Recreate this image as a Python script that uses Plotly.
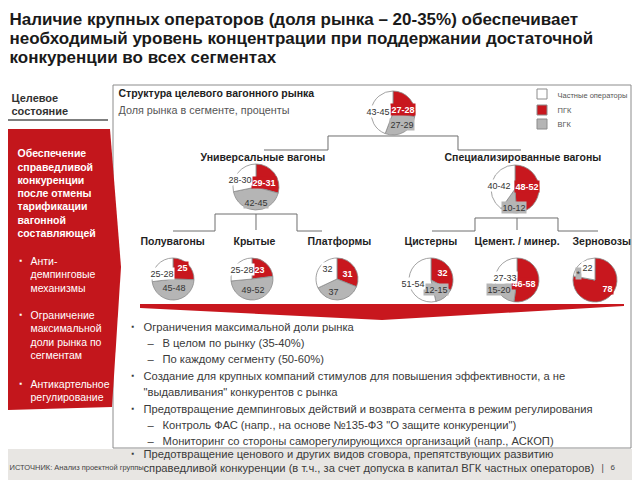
import plotly.graph_objects as go

# The page body has an 8px default margin: draw on a 632x472 figure and
# convert reference pixel coordinates accordingly.
OFF = 8
W, H = 640 - OFF, 480 - OFF
FONT = "Liberation Sans, Arial, sans-serif"
RED = "#C8171E"
GRAY = "#B5B5B5"
WHITE = "#FFFFFF"

# ---------------- data ----------------
segments = ["Всего", "Универсальные вагоны", "Специализированные вагоны",
            "Полувагоны", "Крытые", "Платформы",
            "Цистерны", "Цемент. / минер.", "Зерновозы"]
pgk_share = [27.5, 30, 50, 25, 23, 31, 32, 52, 78]          # ПГК
vgk_share = [28, 43.5, 11, 46.5, 50.5, 37, 13.5, 17.5, 0]   # ВГК
private_share = [44, 29, 41, 26.5, 26.5, 32, 52.5, 30, 22]  # Частные операторы
pgk_labels = ["27-28", "29-31", "48-52", "25", "23", "31", "32", "46-58", "78"]
vgk_labels = ["27-29", "42-45", "10-12", "45-48", "49-52", "37", "12-15", "15-20", "*"]
private_labels = ["43-45", "28-30", "40-42", "25-28", "25-28", "32", "51-54", "27-33", "22"]
legend_names = ["Частные операторы", "ПГК", "ВГК"]

# ---------------- layout geometry (reference pixels) ----------------
pie_geom = [(393, 113, 22), (256, 187, 23), (515, 189, 24),
            (173, 279, 21), (252, 279, 21), (337, 279, 21),
            (431, 280, 22), (517, 280, 22), (595, 280, 22)]
lab_red = [(403, 110), (264, 182), (527, 186), (182, 267), (259, 269), (347, 273),
           (442, 272), (524, 283), (607, 288)]
lab_gray = [(402, 124), (256, 202), (514, 207), (174, 287), (253, 289), (333, 291),
            (436, 289), (499, 289), (578, 273)]
lab_white = [(378, 112), (240, 180), (499, 185), (162, 273), (242, 269), (327, 268),
             (413, 283), (505, 277), (587, 267)]
seg_title_pos = [None, (263, 156), (523, 156), (172, 240), (255, 240), (339, 240),
                 (431, 240), (517, 240), (601, 240)]


def px(x):
    return (x - OFF) / W


def py(y):
    return 1 - (y - OFF) / H


fig = go.Figure()

for i, name in enumerate(segments):
    cx, cy, r = pie_geom[i]
    fig.add_trace(go.Pie(
        values=[pgk_share[i], vgk_share[i], private_share[i]],
        labels=["ПГК", "ВГК", "Частные операторы"],
        marker=dict(colors=[RED, GRAY, WHITE], line=dict(color="#8a8a8a", width=0.8)),
        sort=False, direction="clockwise", rotation=0,
        textinfo="none", hoverinfo="label+value", showlegend=False,
        domain=dict(x=[px(cx - r), px(cx + r)], y=[py(cy + r), py(cy - r)]),
        name=name,
    ))

ann = []


def T(x, y, text, size=10, color="#333333", bold=False, anchor="left", bg=None, family=FONT):
    ann.append(dict(
        x=px(x), y=py(y), xref="paper", yref="paper",
        text=("<b>%s</b>" % text) if bold else text,
        showarrow=False, xanchor=anchor, yanchor="middle",
        font=dict(size=size, color=color, family=family),
        bgcolor=bg if bg else "rgba(0,0,0,0)", borderpad=0.5,
    ))


shapes = []


def rect(x0, y0, x1, y1, fill=None, line=None, lw=1, layer="below"):
    shapes.append(dict(type="rect", xref="paper", yref="paper",
                       x0=px(x0), x1=px(x1), y0=py(y1), y1=py(y0),
                       fillcolor=fill if fill else "rgba(0,0,0,0)",
                       line=dict(color=line if line else "rgba(0,0,0,0)", width=lw if line else 0),
                       layer=layer))


def path(points, fill=None, line=None, lw=1, closed=False, layer="below"):
    d = "M " + " L ".join("%f,%f" % (px(a), py(b)) for a, b in points)
    if closed:
        d += " Z"
    shapes.append(dict(type="path", xref="paper", yref="paper", path=d,
                       fillcolor=fill if fill else "rgba(0,0,0,0)",
                       line=dict(color=line if line else "rgba(0,0,0,0)", width=lw if line else 0),
                       layer=layer))


# footer band
rect(0, 449, 640, 480, fill="#E8E6E3")
# main box
rect(113, 85, 631, 448, fill="#FFFFFF", line="#8C8C8C", lw=1)
# left header underline
path([(8, 120), (108, 120)], line="#555555", lw=1.5)
# red left panel
path([(8, 129), (110, 129), (121, 267), (112, 407), (8, 410)], fill="#C3161C", closed=True)

# tree connectors
path([(264, 150), (328, 150), (328, 136), (458, 136), (458, 150), (521, 150)], line="#6E6E6E", lw=1)
path([(173, 231), (215, 231), (215, 214), (297, 214), (297, 231), (322, 231)], line="#6E6E6E", lw=1)
path([(256, 214), (256, 230)], line="#6E6E6E", lw=1)
path([(432, 231), (475, 231), (475, 218), (558, 218), (558, 231), (598, 231)], line="#6E6E6E", lw=1)
path([(517, 218), (517, 230)], line="#6E6E6E", lw=1)

# red chevron
path([(140, 304), (624, 304), (624, 306), (382, 320), (140, 308)], fill=RED, closed=True, layer="above")

# legend squares
rect(537, 89, 547, 99, fill=WHITE, line="#8C8C8C", lw=1)
rect(537, 105, 547, 115, fill=RED, line="#8C8C8C", lw=1)
rect(537, 119, 547, 129, fill=GRAY, line="#8C8C8C", lw=1)
T(556, 95, legend_names[0], size=7.5, color="#555555")
T(556, 110, legend_names[1], size=7.5, color="#555555")
T(556, 124, legend_names[2], size=7.5, color="#555555")

# title
T(8, 19, "Наличие крупных операторов (доля рынка – 20-35%) обеспечивает", size=17, color="#1a1a1a", bold=True)
T(8, 38, "необходимый уровень концентрации при поддержании достаточной", size=17, color="#1a1a1a", bold=True)
T(8, 57, "конкуренции во всех сегментах", size=17, color="#1a1a1a", bold=True)

# left column
T(10, 97, "Целевое", size=11, color="#333333", bold=True)
T(10, 111, "состояние", size=11, color="#333333", bold=True)
red_head = ["Обеспечение", "справедливой", "конкуренции", "после отмены",
            "тарификации", "вагонной", "составляющей"]
for k, s in enumerate(red_head):
    T(16, 153 + 13.2 * k, s, size=10.5, color="#FFFFFF", bold=True)
red_bullets = [(["Анти-", "демпинговые", "механизмы"], 260),
               (["Ограничение", "максимальной", "доли рынка по", "сегментам"], 314),
               (["Антикартельное", "регулирование"], 383)]
for lines, y0 in red_bullets:
    T(18, y0, "▪", size=8, color="#FFFFFF")
    for k, s in enumerate(lines):
        T(29, y0 + 13.5 * k, s, size=10.5, color="#FFFFFF")

# box headings
T(117, 93, "Структура целевого вагонного рынка", size=10.5, color="#222222", bold=True)
T(117, 109, "Доля рынка в сегменте, проценты", size=10.8, color="#555555")

# segment titles
for i, name in enumerate(segments):
    if seg_title_pos[i] is None:
        continue
    x, y = seg_title_pos[i]
    T(x, y, name, size=10.5, color="#1f1f1f", bold=True, anchor="center")

# pie value labels
for i in range(len(segments)):
    x, y = lab_red[i]
    T(x, y, pgk_labels[i], size=9, color="#FFFFFF", bold=True, anchor="center", bg=RED)
    x, y = lab_gray[i]
    T(x, y, vgk_labels[i], size=9, color="#333333", anchor="center", bg=GRAY)
    x, y = lab_white[i]
    T(x, y, private_labels[i], size=9, color="#333333", anchor="center", bg=WHITE)

# bullets
body = [
    ("b", 326, "Ограничения максимальной доли рынка"),
    ("s", 342, "В целом по рынку (35-40%)"),
    ("s", 358, "По каждому сегменту (50-60%)"),
    ("b", 375, "Создание для крупных компаний стимулов для повышения эффективности, а не"),
    ("c", 391, "\"выдавливания\" конкурентов с рынка"),
    ("b", 408, "Предотвращение демпинговых действий и возврата сегмента в режим регулирования"),
    ("s", 424, "Контроль ФАС (напр., на основе №135-ФЗ \"О защите конкуренции\")"),
    ("s", 440, "Мониторинг со стороны саморегулирующихся организаций (напр., АСКОП)"),
    ("b", 453, "Предотвращение ценового и других видов сговора, препятствующих развитию"),
    ("c", 467, "справедливой конкуренции (в т.ч., за счет допуска в капитал ВГК частных операторов)"),
]
BODY = "#3a3a3a"
BS = 11.2
for kind, y, s in body:
    if kind == "b":
        T(130, y, "▪", size=8, color=BODY)
        T(142, y, s, size=BS, color=BODY)
    elif kind == "s":
        T(146, y, "–", size=BS, color=BODY)
        T(161, y, s, size=BS, color=BODY)
    else:
        T(142, y, s, size=BS, color=BODY)

# footer
T(8, 467, "ИСТОЧНИК: Анализ проектной группы", size=7.5, color="#444444")
T(600, 467, "|", size=9, color="#444444")
T(609, 467, "6", size=8, color="#444444")

fig.update_layout(
    width=W, height=H, margin=dict(l=0, r=0, t=0, b=0),
    paper_bgcolor="#FFFFFF", plot_bgcolor="#FFFFFF",
    annotations=ann, shapes=shapes, showlegend=False,
    font=dict(family=FONT),
)
fig.write_html("out.html")
